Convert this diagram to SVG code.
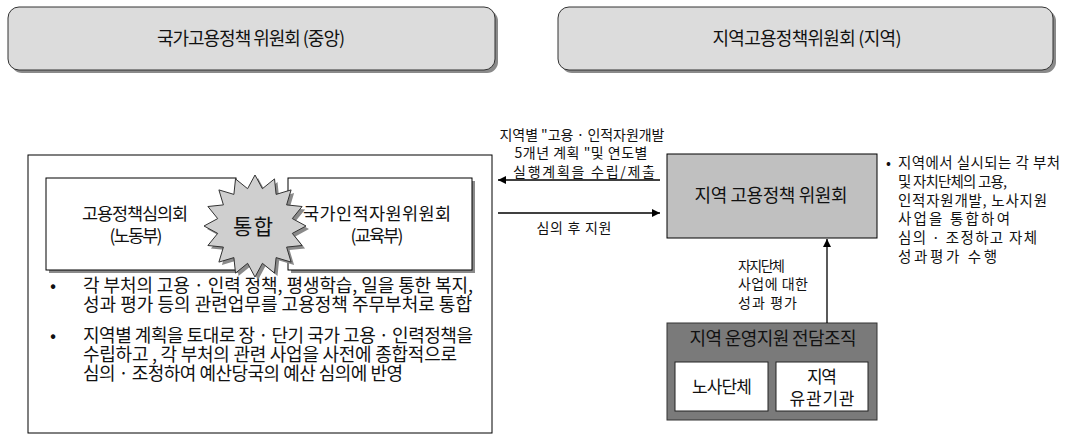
<svg xmlns="http://www.w3.org/2000/svg" width="1067" height="446" viewBox="0 0 1067 446">
<defs>
<style>
text{font-family:"Noto Sans CJK KR","Noto Sans",sans-serif;fill:#111}
.tb{font-size:18px}
.t18{font-size:18px}
.t17{font-size:17.5px}
.t16{font-size:17px}
.t14{font-size:14.5px}
.t13{font-size:14px}
.mid{text-anchor:middle}
.shadow{fill:#8a8a8a}
.conn{stroke:#000;stroke-width:1.3;fill:none}
</style>
<marker id="ah" viewBox="0 0 10 10" refX="10" refY="5" markerWidth="10" markerHeight="8" markerUnits="userSpaceOnUse" orient="auto">
<path d="M0,0 L10,5 L0,10 z" fill="#000"/>
</marker>
</defs>
<rect width="1067" height="446" fill="#fff"/>

<g id="national-title">
<rect x="11" y="10" width="487" height="63" rx="11" class="shadow"/>
<rect x="8" y="7" width="487" height="63" rx="11" fill="#dcdcdc" stroke="#333" stroke-width="1"/>
<text x="251" y="45" class="t18 mid" textLength="188" lengthAdjust="spacing">국가고용정책 위원회 (중앙)</text>
</g>

<g id="regional-title">
<rect x="561" y="10" width="495" height="63" rx="11" class="shadow"/>
<rect x="558" y="7" width="495" height="63" rx="11" fill="#dcdcdc" stroke="#333" stroke-width="1"/>
<text x="807" y="45" class="t18 mid" textLength="189" lengthAdjust="spacing">지역고용정책위원회 (지역)</text>
</g>

<g id="national-box">
<rect x="28" y="155" width="464" height="278" fill="#fff" stroke="#000" stroke-width="1"/>
<text x="50" y="292" class="tb">•</text>
<text x="83" y="292" class="tb" textLength="390" lengthAdjust="spacing">각 부처의 고용 · 인력 정책, 평생학습, 일을 통한 복지,</text>
<text x="83" y="311" class="tb" textLength="389" lengthAdjust="spacing">성과 평가 등의 관련업무를 고용정책 주무부처로 통합</text>
<text x="50" y="342" class="tb">•</text>
<text x="83" y="342" class="tb" textLength="390" lengthAdjust="spacing">지역별 계획을 토대로 장 · 단기 국가 고용 · 인력정책을</text>
<text x="83" y="361" class="tb" textLength="374" lengthAdjust="spacing">수립하고 , 각 부처의 관련 사업을 사전에 종합적으로</text>
<text x="83" y="380" class="tb" textLength="320" lengthAdjust="spacing">심의 · 조정하여 예산당국의 예산 심의에 반영</text>
</g>

<g id="employment-council">
<rect x="49" y="181" width="190" height="92" class="shadow"/>
<rect x="46" y="178" width="190" height="92" fill="#fff" stroke="#000" stroke-width="1"/>
<text x="135" y="220" class="t17 mid" textLength="106" lengthAdjust="spacing">고용정책심의회</text>
<text x="136" y="242" class="t17 mid" textLength="53" lengthAdjust="spacing">(노동부)</text>
</g>

<g id="hr-council">
<rect x="291" y="181" width="184" height="92" class="shadow"/>
<rect x="288" y="178" width="184" height="92" fill="#fff" stroke="#000" stroke-width="1"/>
<text x="377" y="220" class="t17 mid" textLength="148" lengthAdjust="spacing">국가인적자원위원회</text>
<text x="377" y="242" class="t17 mid" textLength="53" lengthAdjust="spacing">(교육부)</text>
</g>

<g id="merge-star">
<polygon transform="translate(3,3)" class="shadow" points="255,175 262.4,188.7 274.5,178.9 276.1,194.4 291.1,189.9 286.6,204.9 302.1,206.5 292.3,218.6 306,226 292.3,233.4 302.1,245.5 286.6,247.1 291.1,262.1 276.1,257.6 274.5,273.1 262.4,263.3 255,277 247.6,263.3 235.5,273.1 233.9,257.6 218.9,262.1 223.4,247.1 207.9,245.5 217.7,233.4 204,226 217.7,218.6 207.9,206.5 223.4,204.9 218.9,189.9 233.9,194.4 235.5,178.9 247.6,188.7"/>
<polygon fill="#cfcfcf" stroke="#333" stroke-width="1" points="255,175 262.4,188.7 274.5,178.9 276.1,194.4 291.1,189.9 286.6,204.9 302.1,206.5 292.3,218.6 306,226 292.3,233.4 302.1,245.5 286.6,247.1 291.1,262.1 276.1,257.6 274.5,273.1 262.4,263.3 255,277 247.6,263.3 235.5,273.1 233.9,257.6 218.9,262.1 223.4,247.1 207.9,245.5 217.7,233.4 204,226 217.7,218.6 207.9,206.5 223.4,204.9 218.9,189.9 233.9,194.4 235.5,178.9 247.6,188.7"/>
<text x="253" y="234" class="mid" style="font-size:21px" textLength="40" lengthAdjust="spacing">통합</text>
</g>

<g id="regional-committee">
<rect x="667" y="154" width="210" height="84" fill="#c0c0c0" stroke="#000" stroke-width="1"/>
<text x="771" y="202" class="t18 mid" textLength="153" lengthAdjust="spacing">지역 고용정책 위원회</text>
</g>

<g id="regional-notes">
<text x="886" y="168" class="t14">•</text>
<text x="898" y="168" class="t14" textLength="162" lengthAdjust="spacing">지역에서 실시되는 각 부처</text>
<text x="898" y="187" class="t14" textLength="109" lengthAdjust="spacing">및 자치단체의 고용,</text>
<text x="898" y="206" class="t14" textLength="149" lengthAdjust="spacing">인적자원개발, 노사지원</text>
<text x="898" y="224" class="t14" textLength="112" lengthAdjust="spacing">사업을 통합하여</text>
<text x="898" y="243" class="t14" textLength="139" lengthAdjust="spacing">심의 · 조정하고 자체</text>
<text x="898" y="262" class="t14" textLength="99" lengthAdjust="spacing">성과평가 수행</text>
</g>

<g id="support-org">
<rect x="667" y="323" width="210" height="97" fill="#7a7a7a" stroke="#333" stroke-width="1"/>
<text x="773" y="345" class="t18 mid" textLength="167" lengthAdjust="spacing">지역 운영지원 전담조직</text>
</g>

<g id="labor-groups">
<rect x="675" y="362" width="93" height="49" fill="#fff" stroke="#222" stroke-width="1"/>
<text x="722" y="393" class="t16 mid" textLength="60" lengthAdjust="spacing">노사단체</text>
</g>

<g id="local-agencies">
<rect x="776" y="362" width="92" height="49" fill="#fff" stroke="#222" stroke-width="1"/>
<text x="822" y="383" class="t16 mid" textLength="30" lengthAdjust="spacing">지역</text>
<text x="822" y="405" class="t16 mid" textLength="65" lengthAdjust="spacing">유관기관</text>
</g>

<g id="connectors">
<line x1="660" y1="180" x2="498" y2="180" class="conn" marker-end="url(#ah)"/>
<line x1="498" y1="213" x2="660" y2="213" class="conn" marker-end="url(#ah)"/>
<line x1="827" y1="323" x2="827" y2="239" class="conn" marker-end="url(#ah)"/>
<text x="582" y="140" class="t13 mid" textLength="165" lengthAdjust="spacing">지역별 "고용 · 인적자원개발</text>
<text x="581" y="158" class="t13 mid" textLength="133" lengthAdjust="spacing">5개년 계획 "및 연도별</text>
<text x="584" y="177" class="t13 mid" textLength="142" lengthAdjust="spacing">실행계획을 수립/제출</text>
<text x="574" y="233" class="t13 mid" textLength="75" lengthAdjust="spacing">심의 후 지원</text>
<text x="738" y="271" class="t13" textLength="47" lengthAdjust="spacing">자지단체</text>
<text x="738" y="289" class="t13" textLength="70" lengthAdjust="spacing">사업에 대한</text>
<text x="738" y="308" class="t13" textLength="59" lengthAdjust="spacing">성과 평가</text>
</g>
</svg>
